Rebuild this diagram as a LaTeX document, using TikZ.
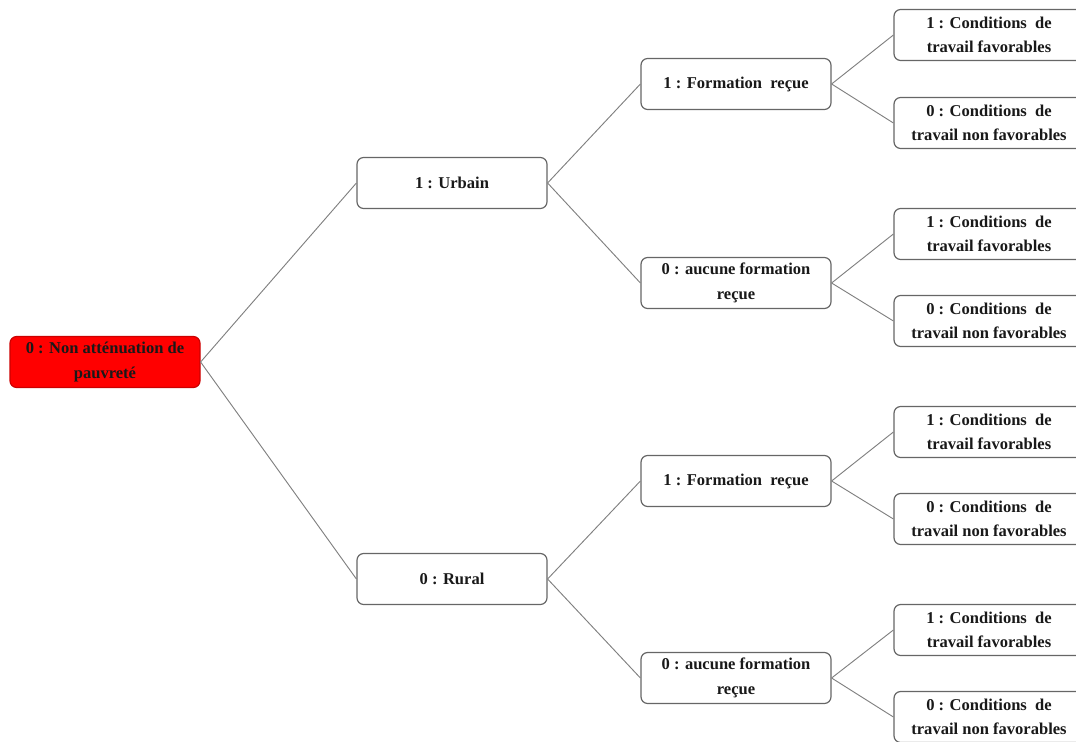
\documentclass[tikz,border=0pt]{standalone}
\usepackage{fontspec}
\setmainfont{Liberation Serif}
\begin{document}
\begin{tikzpicture}[x=0.75pt,y=-0.75pt,
  box/.style={draw=black!60, line width=0.9pt, rounded corners=5pt, fill=white,
    minimum width=190*0.75pt, minimum height=51*0.75pt, inner sep=1pt,
    align=center, font=\fontsize{12.4}{18.5}\selectfont\bfseries, text=black!90},
  rootbox/.style={box, fill=red, draw=red!80!black},
  edge/.style={draw=black!50, line width=0.7pt}]
\useasboundingbox (0,0) rectangle (1076,742);
\node[rootbox] (r) at (105,362) {0 : Non atténuation de\\pauvreté};
\node[box] (u) at (452,183) {1 : Urbain};
\node[box] (ru) at (452,579) {0 : Rural};
\node[box] (uf) at (736,84) {1 : Formation\ \ reçue};
\node[box] (ua) at (736,283) {0 : aucune formation\\reçue};
\node[box] (rf) at (736,481) {1 : Formation\ \ reçue};
\node[box] (ra) at (736,678) {0 : aucune formation\\reçue};
\node[box] (l1) at (989,35) {1 : Conditions\ \ de\\travail favorables};
\node[box] (l2) at (989,123) {0 : Conditions\ \ de\\travail non favorables};
\node[box] (l3) at (989,234) {1 : Conditions\ \ de\\travail favorables};
\node[box] (l4) at (989,321) {0 : Conditions\ \ de\\travail non favorables};
\node[box] (l5) at (989,432) {1 : Conditions\ \ de\\travail favorables};
\node[box] (l6) at (989,519) {0 : Conditions\ \ de\\travail non favorables};
\node[box] (l7) at (989,630) {1 : Conditions\ \ de\\travail favorables};
\node[box] (l8) at (989,717) {0 : Conditions\ \ de\\travail non favorables};
\draw[edge] (r.east) -- (u.west);
\draw[edge] (r.east) -- (ru.west);
\draw[edge] (u.east) -- (uf.west);
\draw[edge] (u.east) -- (ua.west);
\draw[edge] (ru.east) -- (rf.west);
\draw[edge] (ru.east) -- (ra.west);
\draw[edge] (uf.east) -- (l1.west);
\draw[edge] (uf.east) -- (l2.west);
\draw[edge] (ua.east) -- (l3.west);
\draw[edge] (ua.east) -- (l4.west);
\draw[edge] (rf.east) -- (l5.west);
\draw[edge] (rf.east) -- (l6.west);
\draw[edge] (ra.east) -- (l7.west);
\draw[edge] (ra.east) -- (l8.west);
\end{tikzpicture}
\end{document}
